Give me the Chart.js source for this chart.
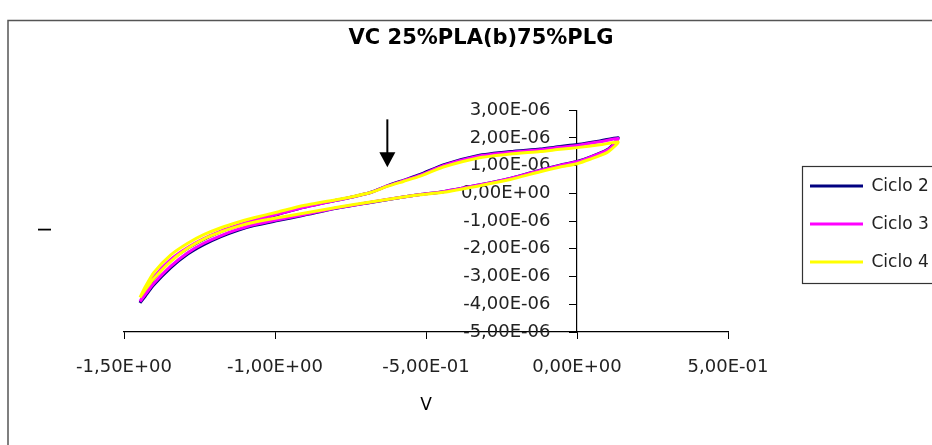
<!DOCTYPE html>
<html>
<head>
<meta charset="utf-8">
<script src="https://cdn.jsdelivr.net/npm/chart.js@4.4.1/dist/chart.umd.min.js"></script>
<style>
  html, body { margin: 0; padding: 0; background: #ffffff; }
  #c { display: block; }
</style>
</head>
<body>
<canvas id="c" width="932" height="445"></canvas>
<script>
// ---- Data ----
const chartTitle = 'VC 25%PLA(b)75%PLG';
const xTitle = 'V';
const yTitle = 'I';
const seriesNames = ['Ciclo 2', 'Ciclo 3', 'Ciclo 4'];

// potential sweep (V): upper branch left -> right, then lower branch right -> left
const voltage = [
  -1.447, -1.430, -1.401, -1.345, -1.289, -1.236, -1.179, -1.123, -1.070, -0.991,
  -0.905, -0.793, -0.740, -0.684, -0.628, -0.575, -0.519, -0.443, -0.330, -0.221,
  -0.122, -0.056, 0.000, 0.076, 0.136,
  0.125, 0.099, 0.043, 0.000, -0.056, -0.122, -0.221, -0.330, -0.443, -0.519,
  -0.575, -0.684, -0.793, -0.905, -0.991, -1.070, -1.123, -1.179, -1.236, -1.289,
  -1.345, -1.401, -1.430, -1.447
];

// current (A)
const ciclo2 = [
  -3.95e-6, -3.60e-6, -3.07e-6, -2.42e-6, -1.98e-6, -1.66e-6, -1.38e-6, -1.17e-6, -0.99e-6, -0.76e-6,
  -0.50e-6, -0.24e-6, -0.12e-6, 0.03e-6, 0.27e-6, 0.47e-6, 0.68e-6, 1.03e-6, 1.36e-6, 1.51e-6,
  1.60e-6, 1.69e-6, 1.76e-6, 1.89e-6, 2.01e-6,
  1.83e-6, 1.57e-6, 1.31e-6, 1.15e-6, 1.02e-6, 0.84e-6, 0.54e-6, 0.29e-6, 0.06e-6, -0.04e-6,
  -0.13e-6, -0.33e-6, -0.53e-6, -0.79e-6, -0.98e-6, -1.16e-6, -1.33e-6, -1.56e-6, -1.85e-6, -2.19e-6,
  -2.68e-6, -3.30e-6, -3.71e-6, -3.95e-6
];
const ciclo3 = [
  -3.90e-6, -3.55e-6, -3.02e-6, -2.38e-6, -1.95e-6, -1.63e-6, -1.36e-6, -1.15e-6, -0.98e-6, -0.75e-6,
  -0.50e-6, -0.24e-6, -0.12e-6, 0.03e-6, 0.27e-6, 0.46e-6, 0.66e-6, 1.00e-6, 1.33e-6, 1.48e-6,
  1.57e-6, 1.66e-6, 1.73e-6, 1.86e-6, 1.98e-6,
  1.80e-6, 1.55e-6, 1.30e-6, 1.14e-6, 1.01e-6, 0.83e-6, 0.54e-6, 0.29e-6, 0.06e-6, -0.04e-6,
  -0.13e-6, -0.32e-6, -0.52e-6, -0.77e-6, -0.95e-6, -1.13e-6, -1.30e-6, -1.52e-6, -1.80e-6, -2.14e-6,
  -2.62e-6, -3.24e-6, -3.65e-6, -3.90e-6
];
const ciclo4 = [
  -3.75e-6, -3.38e-6, -2.85e-6, -2.22e-6, -1.80e-6, -1.49e-6, -1.24e-6, -1.04e-6, -0.88e-6, -0.67e-6,
  -0.44e-6, -0.22e-6, -0.11e-6, 0.03e-6, 0.25e-6, 0.43e-6, 0.62e-6, 0.95e-6, 1.27e-6, 1.42e-6,
  1.51e-6, 1.59e-6, 1.65e-6, 1.75e-6, 1.85e-6,
  1.70e-6, 1.47e-6, 1.23e-6, 1.07e-6, 0.95e-6, 0.78e-6, 0.50e-6, 0.26e-6, 0.04e-6, -0.05e-6,
  -0.13e-6, -0.31e-6, -0.50e-6, -0.72e-6, -0.88e-6, -1.04e-6, -1.19e-6, -1.39e-6, -1.65e-6, -1.98e-6,
  -2.45e-6, -3.07e-6, -3.48e-6, -3.75e-6
];

const xTickLabels = ['-1,50E+00', '-1,00E+00', '-5,00E-01', '0,00E+00', '5,00E-01'];
const yTickLabels = ['-5,00E-06', '-4,00E-06', '-3,00E-06', '-2,00E-06', '-1,00E-06',
                     '0,00E+00', '1,00E-06', '2,00E-06', '3,00E-06'];

// arrow annotation (data coordinates)
const arrowV = -0.628;
const arrowTopI = 2.67e-6;
const arrowTipI = 0.94e-6;

// ---- Styling ----
const FONT = 'DejaVu Sans';
const colors = ['#000080', '#FF00FF', '#FFFF00'];
const series = [ciclo2, ciclo3, ciclo4];
// gap between the y tick labels and the axis line (the axis sits at V = 0)
const Y_LABEL_GAP = '\u2007\u2007\u2009';

function toPoints(ys) { return voltage.map((v, i) => ({ x: v, y: ys[i] })); }

const datasets = series.map((ys, k) => ({
  label: seriesNames[k],
  data: toPoints(ys),
  showLine: true,
  borderColor: colors[k],
  backgroundColor: colors[k],
  borderWidth: 3,
  pointRadius: 0,
  tension: 0.2,
  fill: false,
  order: 3 - k
}));

const decorations = {
  id: 'decorations',
  beforeDraw(chart) {
    const ctx = chart.ctx;
    ctx.save();
    ctx.fillStyle = '#ffffff';
    ctx.fillRect(0, 0, chart.width, chart.height);
    ctx.restore();
  },
  afterDraw(chart) {
    const ctx = chart.ctx;
    ctx.save();
    // outer chart frame
    ctx.strokeStyle = '#555555';
    ctx.lineWidth = 1.5;
    ctx.strokeRect(8, 20.5, chart.width + 20, chart.height + 20);
    // legend frame
    const hb = chart.legend.legendHitBoxes;
    if (hb && hb.length) {
      const l = hb[0].left - 8;
      const t = Math.min(...hb.map(h => h.top)) - 12;
      const b = Math.max(...hb.map(h => h.top + h.height)) + 12;
      ctx.strokeStyle = '#333333';
      ctx.lineWidth = 1.2;
      ctx.strokeRect(Math.round(l) + 0.5, Math.round(t) + 0.5, chart.width, Math.round(b - t));
    }
    // arrow
    const xs = chart.scales.x, ys = chart.scales.y;
    const ax = xs.getPixelForValue(arrowV);
    const ay0 = ys.getPixelForValue(arrowTopI);
    const ay1 = ys.getPixelForValue(arrowTipI);
    const headH = 15, headW = 16;
    ctx.strokeStyle = '#000';
    ctx.fillStyle = '#000';
    ctx.lineWidth = 2;
    ctx.beginPath();
    ctx.moveTo(ax, ay0);
    ctx.lineTo(ax, ay1 - headH + 1);
    ctx.stroke();
    ctx.beginPath();
    ctx.moveTo(ax - headW / 2, ay1 - headH);
    ctx.lineTo(ax + headW / 2, ay1 - headH);
    ctx.lineTo(ax, ay1);
    ctx.closePath();
    ctx.fill();
    ctx.restore();
  }
};

new Chart(document.getElementById('c'), {
  type: 'scatter',
  data: { datasets },
  plugins: [decorations],
  options: {
    responsive: false,
    animation: false,
    devicePixelRatio: 1,
    layout: { padding: { left: 24, right: -6, top: 0, bottom: 0 } },
    plugins: {
      title: {
        display: true,
        text: chartTitle,
        color: '#000',
        font: { family: FONT, size: 21, weight: 'bold' },
        padding: { top: 26, bottom: 59 }
      },
      legend: {
        display: true,
        position: 'right',
        align: 'center',
        fullSize: false,
        maxWidth: 149,
        title: { display: true, text: '', font: { family: FONT, size: 5, lineHeight: 1.2 }, padding: 0 },
        labels: {
          usePointStyle: true,
          pointStyle: 'line',
          pointStyleWidth: 53,
          padding: 21,
          color: '#222',
          font: { family: FONT, size: 17, lineHeight: 1 },
          sort: (a, b) => a.datasetIndex - b.datasetIndex
        }
      },
      tooltip: { enabled: false }
    },
    scales: {
      x: {
        type: 'linear',
        position: 'bottom',
        min: -1.5,
        max: 0.5,
        ticks: {
          stepSize: 0.5,
          padding: 18,
          color: '#222',
          font: { family: FONT, size: 18 },
          maxRotation: 0,
          callback: (v, i) => xTickLabels[i]
        },
        grid: { drawOnChartArea: false, drawTicks: true, tickLength: 7, color: '#000', lineWidth: 1 },
        border: { display: true, color: '#000', width: 1.2 },
        title: {
          display: true,
          text: xTitle,
          color: '#000',
          font: { family: FONT, size: 17 },
          padding: { top: 0, bottom: 29 }
        },
        afterFit: (s) => { s.height = 113; }
      },
      y: {
        type: 'linear',
        position: { x: 0 },
        min: -5e-6,
        max: 3e-6,
        ticks: {
          stepSize: 1e-6,
          padding: 20,
          color: '#222',
          font: { family: FONT, size: 18 },
          callback: (v, i) => yTickLabels[i] + Y_LABEL_GAP
        },
        grid: { drawOnChartArea: false, drawTicks: true, tickLength: 7, color: '#000', lineWidth: 1 },
        border: { display: true, color: '#000', width: 1.2 }
      },
      yTitleAxis: {
        type: 'linear',
        position: 'left',
        display: true,
        ticks: { display: false },
        grid: { display: false },
        border: { display: false },
        title: {
          display: true,
          text: yTitle + '\u00a0\u00a0\u00a0',
          color: '#000',
          font: { family: FONT, size: 18 },
          padding: { top: 12, bottom: 0 }
        },
        afterFit: (s) => { s.width = 100; }
      },
      yRightSpacer: {
        type: 'linear',
        position: 'right',
        display: true,
        ticks: { display: false },
        grid: { display: false },
        border: { display: false },
        afterFit: (s) => { s.width = 61; }
      }
    }
  }
});
</script>
</body>
</html>
